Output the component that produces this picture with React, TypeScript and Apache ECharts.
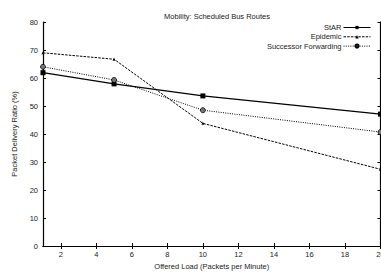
import React, { useEffect, useRef } from "react";
import * as echarts from "echarts";

const xValues = [1, 5, 10, 20];
const starValues = [61.9, 57.9, 53.6, 47.1];
const epidemicValues = [69.0, 66.7, 43.8, 27.4];
const successorValues = [64.0, 59.3, 48.5, 40.7];
const xTicks = [2, 4, 6, 8, 10, 12, 14, 16, 18, 20];

const FONT = "Liberation Sans, Arial, Helvetica, sans-serif";
const TXT = "#222";

export default function App() {
  const ref = useRef<HTMLDivElement>(null);
  useEffect(() => {
    document.body.style.margin = "0";
    if (!ref.current) return;
    const chart = echarts.init(ref.current, null, { renderer: "svg" });
    const pair = (vals: number[]) => xValues.map((x, i) => [x, vals[i]]);
    const axisLine = { lineStyle: { color: "#000", width: 1.2 } };
    const tick = { inside: true, length: 3, lineStyle: { color: "#000", width: 1 } };
    chart.setOption({
      animation: false,
      backgroundColor: "#fff",
      title: {
        text: "Mobility: Scheduled Bus Routes",
        left: 212,
        top: 7,
        textAlign: "center",
        textStyle: { fontSize: 7.5, fontWeight: "normal", color: TXT, fontFamily: FONT },
      },
      legend: {
        orient: "vertical",
        right: 10,
        top: 23,
        padding: 0,
        align: "right",
        itemWidth: 27,
        itemHeight: 4,
        itemGap: 0.3,
        lineStyle: { width: 1 },
        textStyle: { fontSize: 7.5, color: TXT, fontFamily: FONT, lineHeight: 9, padding: [0, -3, 0, 0] },
        data: ["StAR", "Epidemic", "Successor Forwarding"],
      },
      grid: { left: 43, right: 0.5, top: 22, bottom: 28, outerBoundsMode: "none", containLabel: false },
      xAxis: [
        {
          type: "value",
          min: 1,
          max: 20,
          name: "Offered Load (Packets per Minute)",
          nameLocation: "middle",
          nameGap: 16,
          nameTextStyle: { fontSize: 7.5, color: TXT, fontFamily: FONT },
          axisLine,
          axisTick: { ...tick, customValues: xTicks },
          axisLabel: { customValues: xTicks, fontSize: 7.5, color: TXT, fontFamily: FONT, margin: 4, hideOverlap: false },
          splitLine: { show: false },
        },
        {
          type: "value",
          position: "top",
          min: 1,
          max: 20,
          axisLine,
          axisTick: { ...tick, customValues: xTicks },
          axisLabel: { show: false, customValues: xTicks },
          splitLine: { show: false },
        },
      ],
      yAxis: [
        {
          type: "value",
          min: 0,
          max: 80,
          interval: 10,
          name: "Packet Delivery Ratio (%)",
          nameLocation: "middle",
          nameGap: 23,
          nameTextStyle: { fontSize: 7.5, color: TXT, fontFamily: FONT },
          axisLine,
          axisTick: tick,
          axisLabel: { fontSize: 7.5, color: TXT, fontFamily: FONT, margin: 5 },
          splitLine: { show: false },
        },
        {
          type: "value",
          position: "right",
          min: 0,
          max: 80,
          interval: 10,
          axisLine,
          axisTick: tick,
          axisLabel: { show: false },
          splitLine: { show: false },
        },
      ],
      series: [
        {
          name: "StAR",
          type: "line",
          data: pair(starValues),
          symbol: "rect",
          symbolSize: 5,
          itemStyle: { color: "#000" },
          lineStyle: { color: "#000", width: 1.2, type: "solid" },
        },
        {
          name: "Epidemic",
          type: "line",
          data: pair(epidemicValues),
          symbol: "triangle",
          symbolSize: 3,
          itemStyle: { color: "#000" },
          lineStyle: { color: "#000", width: 1, type: [2.5, 1.2] },
        },
        {
          name: "Successor Forwarding",
          type: "line",
          data: pair(successorValues),
          symbol: "circle",
          symbolSize: 5,
          itemStyle: { color: "#777", borderColor: "#000", borderWidth: 0.8 },
          lineStyle: { color: "#000", width: 1, type: [1, 1.3] },
        },
      ],
    });
    return () => chart.dispose();
  }, []);
  return <div ref={ref} style={{ width: 381, height: 274 }} />;
}
